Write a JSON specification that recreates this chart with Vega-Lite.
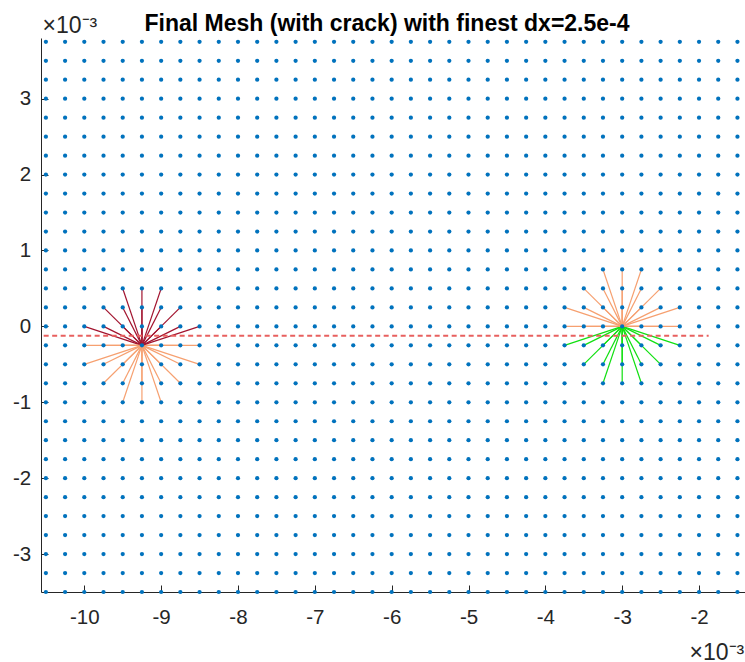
{
  "$schema": "https://vega.github.io/schema/vega-lite/v6.json",
  "width": 704,
  "height": 554,
  "autosize": {"type": "none"},
  "padding": {"left": 41, "top": 38, "right": 0, "bottom": 70},
  "background": "white",
  "config": {
    "view": {"stroke": null},
    "font": "Liberation Sans",
    "axis": {"titleFontSize": 23, "titleFont": "Liberation Sans", "titleFontWeight": "normal", "titleColor": "#262626"}
  },
  "title": {
    "text": "Final Mesh (with crack) with finest dx=2.5e-4",
    "fontSize": 23,
    "fontWeight": "bold",
    "color": "#000000",
    "anchor": "middle",
    "frame": "group",
    "baseline": "alphabetic",
    "dx": -6,
    "dy": 23,
    "offset": -16
  },
  "encoding": {
    "x": {
      "field": "x",
      "type": "quantitative",
      "scale": {"domain": [-10.5635, -1.4017], "nice": false, "zero": false},
      "axis": {
        "values": [-10, -9, -8, -7, -6, -5, -4, -3, -2],
        "labelExpr": "'' + datum.value",
        "grid": false,
        "tickSize": -7,
        "tickColor": "#262626",
        "domainColor": "#262626",
        "labelPadding": 22.8,
        "labelFontSize": 20.5,
        "labelColor": "#262626",
        "labelFlush": false,
        "labelOverlap": false,
        "title": "×10⁻³",
        "titleX": 648,
        "titleY": 67,
        "titleAlign": "left",
        "titleBaseline": "alphabetic",
        "titleFontSize": 23
      }
    },
    "y": {
      "field": "y",
      "type": "quantitative",
      "scale": {"domain": [-3.5, 3.8], "nice": false, "zero": false},
      "axis": {
        "values": [-3, -2, -1, 0, 1, 2, 3],
        "labelExpr": "'' + datum.value",
        "grid": false,
        "tickSize": -7,
        "tickColor": "#262626",
        "domainColor": "#262626",
        "labelPadding": 17.3,
        "labelFontSize": 20.5,
        "labelColor": "#262626",
        "labelFlush": false,
        "labelOverlap": false,
        "title": "×10⁻³",
        "titleAngle": 0,
        "titleX": 1,
        "titleY": -5.3,
        "titleAlign": "left",
        "titleBaseline": "alphabetic",
        "titleFontSize": 23
      }
    }
  },
  "layer": [
    {
      "data": {
        "values": "x,y,x2,y2,k\n-9.25,-0.25,-10,-0.5,o\n-9.25,-0.25,-10,-0.25,o\n-9.25,-0.25,-10,0,b\n-9.25,-0.25,-9.75,-0.75,o\n-9.25,-0.25,-9.75,-0.5,o\n-9.25,-0.25,-9.75,-0.25,o\n-9.25,-0.25,-9.75,0,b\n-9.25,-0.25,-9.75,0.25,b\n-9.25,-0.25,-9.5,-1,o\n-9.25,-0.25,-9.5,-0.75,o\n-9.25,-0.25,-9.5,-0.5,o\n-9.25,-0.25,-9.5,-0.25,o\n-9.25,-0.25,-9.5,0,b\n-9.25,-0.25,-9.5,0.25,b\n-9.25,-0.25,-9.5,0.5,b\n-9.25,-0.25,-9.25,-1,o\n-9.25,-0.25,-9.25,-0.75,o\n-9.25,-0.25,-9.25,-0.5,o\n-9.25,-0.25,-9.25,0,b\n-9.25,-0.25,-9.25,0.25,b\n-9.25,-0.25,-9.25,0.5,b\n-9.25,-0.25,-9,-1,o\n-9.25,-0.25,-9,-0.75,o\n-9.25,-0.25,-9,-0.5,o\n-9.25,-0.25,-9,-0.25,o\n-9.25,-0.25,-9,0,b\n-9.25,-0.25,-9,0.25,b\n-9.25,-0.25,-9,0.5,b\n-9.25,-0.25,-8.75,-0.75,o\n-9.25,-0.25,-8.75,-0.5,o\n-9.25,-0.25,-8.75,-0.25,o\n-9.25,-0.25,-8.75,0,b\n-9.25,-0.25,-8.75,0.25,b\n-9.25,-0.25,-8.5,-0.5,o\n-9.25,-0.25,-8.5,-0.25,o\n-9.25,-0.25,-8.5,0,b\n-3,0,-3.75,-0.25,g\n-3,0,-3.75,0,o\n-3,0,-3.75,0.25,o\n-3,0,-3.5,-0.5,g\n-3,0,-3.5,-0.25,g\n-3,0,-3.5,0,o\n-3,0,-3.5,0.25,o\n-3,0,-3.5,0.5,o\n-3,0,-3.25,-0.75,g\n-3,0,-3.25,-0.5,g\n-3,0,-3.25,-0.25,g\n-3,0,-3.25,0,o\n-3,0,-3.25,0.25,o\n-3,0,-3.25,0.5,o\n-3,0,-3.25,0.75,o\n-3,0,-3,-0.75,g\n-3,0,-3,-0.5,g\n-3,0,-3,-0.25,g\n-3,0,-3,0.25,o\n-3,0,-3,0.5,o\n-3,0,-3,0.75,o\n-3,0,-2.75,-0.75,g\n-3,0,-2.75,-0.5,g\n-3,0,-2.75,-0.25,g\n-3,0,-2.75,0,o\n-3,0,-2.75,0.25,o\n-3,0,-2.75,0.5,o\n-3,0,-2.75,0.75,o\n-3,0,-2.5,-0.5,g\n-3,0,-2.5,-0.25,g\n-3,0,-2.5,0,o\n-3,0,-2.5,0.25,o\n-3,0,-2.5,0.5,o\n-3,0,-2.25,-0.25,g\n-3,0,-2.25,0,o\n-3,0,-2.25,0.25,o",
        "format": {"type": "csv", "parse": {"x": "number", "y": "number", "x2": "number", "y2": "number"}}
      },
      "mark": {"type": "rule", "strokeWidth": 1.2},
      "encoding": {
        "x2": {"field": "x2"},
        "y2": {"field": "y2"},
        "color": {
          "field": "k",
          "type": "nominal",
          "scale": {"domain": ["o", "b", "g"], "range": ["#F6A070", "#A2142F", "#10E010"]},
          "legend": null
        }
      }
    },
    {
      "data": {"values": [{"x": -10.75, "x2": -1.875, "y": -0.125}]},
      "mark": {"type": "rule", "color": "#E8605F", "strokeWidth": 2, "strokeDash": [5, 3.5], "clip": true},
      "encoding": {"x2": {"field": "x2"}}
    },
    {
      "data": {
        "values": "x,y\n-10.5,-3.5\n-10.25,-3.5\n-10,-3.5\n-9.75,-3.5\n-9.5,-3.5\n-9.25,-3.5\n-9,-3.5\n-8.75,-3.5\n-8.5,-3.5\n-8.25,-3.5\n-8,-3.5\n-7.75,-3.5\n-7.5,-3.5\n-7.25,-3.5\n-7,-3.5\n-6.75,-3.5\n-6.5,-3.5\n-6.25,-3.5\n-6,-3.5\n-5.75,-3.5\n-5.5,-3.5\n-5.25,-3.5\n-5,-3.5\n-4.75,-3.5\n-4.5,-3.5\n-4.25,-3.5\n-4,-3.5\n-3.75,-3.5\n-3.5,-3.5\n-3.25,-3.5\n-3,-3.5\n-2.75,-3.5\n-2.5,-3.5\n-2.25,-3.5\n-2,-3.5\n-1.75,-3.5\n-1.5,-3.5\n-10.5,-3.25\n-10.25,-3.25\n-10,-3.25\n-9.75,-3.25\n-9.5,-3.25\n-9.25,-3.25\n-9,-3.25\n-8.75,-3.25\n-8.5,-3.25\n-8.25,-3.25\n-8,-3.25\n-7.75,-3.25\n-7.5,-3.25\n-7.25,-3.25\n-7,-3.25\n-6.75,-3.25\n-6.5,-3.25\n-6.25,-3.25\n-6,-3.25\n-5.75,-3.25\n-5.5,-3.25\n-5.25,-3.25\n-5,-3.25\n-4.75,-3.25\n-4.5,-3.25\n-4.25,-3.25\n-4,-3.25\n-3.75,-3.25\n-3.5,-3.25\n-3.25,-3.25\n-3,-3.25\n-2.75,-3.25\n-2.5,-3.25\n-2.25,-3.25\n-2,-3.25\n-1.75,-3.25\n-1.5,-3.25\n-10.5,-3\n-10.25,-3\n-10,-3\n-9.75,-3\n-9.5,-3\n-9.25,-3\n-9,-3\n-8.75,-3\n-8.5,-3\n-8.25,-3\n-8,-3\n-7.75,-3\n-7.5,-3\n-7.25,-3\n-7,-3\n-6.75,-3\n-6.5,-3\n-6.25,-3\n-6,-3\n-5.75,-3\n-5.5,-3\n-5.25,-3\n-5,-3\n-4.75,-3\n-4.5,-3\n-4.25,-3\n-4,-3\n-3.75,-3\n-3.5,-3\n-3.25,-3\n-3,-3\n-2.75,-3\n-2.5,-3\n-2.25,-3\n-2,-3\n-1.75,-3\n-1.5,-3\n-10.5,-2.75\n-10.25,-2.75\n-10,-2.75\n-9.75,-2.75\n-9.5,-2.75\n-9.25,-2.75\n-9,-2.75\n-8.75,-2.75\n-8.5,-2.75\n-8.25,-2.75\n-8,-2.75\n-7.75,-2.75\n-7.5,-2.75\n-7.25,-2.75\n-7,-2.75\n-6.75,-2.75\n-6.5,-2.75\n-6.25,-2.75\n-6,-2.75\n-5.75,-2.75\n-5.5,-2.75\n-5.25,-2.75\n-5,-2.75\n-4.75,-2.75\n-4.5,-2.75\n-4.25,-2.75\n-4,-2.75\n-3.75,-2.75\n-3.5,-2.75\n-3.25,-2.75\n-3,-2.75\n-2.75,-2.75\n-2.5,-2.75\n-2.25,-2.75\n-2,-2.75\n-1.75,-2.75\n-1.5,-2.75\n-10.5,-2.5\n-10.25,-2.5\n-10,-2.5\n-9.75,-2.5\n-9.5,-2.5\n-9.25,-2.5\n-9,-2.5\n-8.75,-2.5\n-8.5,-2.5\n-8.25,-2.5\n-8,-2.5\n-7.75,-2.5\n-7.5,-2.5\n-7.25,-2.5\n-7,-2.5\n-6.75,-2.5\n-6.5,-2.5\n-6.25,-2.5\n-6,-2.5\n-5.75,-2.5\n-5.5,-2.5\n-5.25,-2.5\n-5,-2.5\n-4.75,-2.5\n-4.5,-2.5\n-4.25,-2.5\n-4,-2.5\n-3.75,-2.5\n-3.5,-2.5\n-3.25,-2.5\n-3,-2.5\n-2.75,-2.5\n-2.5,-2.5\n-2.25,-2.5\n-2,-2.5\n-1.75,-2.5\n-1.5,-2.5\n-10.5,-2.25\n-10.25,-2.25\n-10,-2.25\n-9.75,-2.25\n-9.5,-2.25\n-9.25,-2.25\n-9,-2.25\n-8.75,-2.25\n-8.5,-2.25\n-8.25,-2.25\n-8,-2.25\n-7.75,-2.25\n-7.5,-2.25\n-7.25,-2.25\n-7,-2.25\n-6.75,-2.25\n-6.5,-2.25\n-6.25,-2.25\n-6,-2.25\n-5.75,-2.25\n-5.5,-2.25\n-5.25,-2.25\n-5,-2.25\n-4.75,-2.25\n-4.5,-2.25\n-4.25,-2.25\n-4,-2.25\n-3.75,-2.25\n-3.5,-2.25\n-3.25,-2.25\n-3,-2.25\n-2.75,-2.25\n-2.5,-2.25\n-2.25,-2.25\n-2,-2.25\n-1.75,-2.25\n-1.5,-2.25\n-10.5,-2\n-10.25,-2\n-10,-2\n-9.75,-2\n-9.5,-2\n-9.25,-2\n-9,-2\n-8.75,-2\n-8.5,-2\n-8.25,-2\n-8,-2\n-7.75,-2\n-7.5,-2\n-7.25,-2\n-7,-2\n-6.75,-2\n-6.5,-2\n-6.25,-2\n-6,-2\n-5.75,-2\n-5.5,-2\n-5.25,-2\n-5,-2\n-4.75,-2\n-4.5,-2\n-4.25,-2\n-4,-2\n-3.75,-2\n-3.5,-2\n-3.25,-2\n-3,-2\n-2.75,-2\n-2.5,-2\n-2.25,-2\n-2,-2\n-1.75,-2\n-1.5,-2\n-10.5,-1.75\n-10.25,-1.75\n-10,-1.75\n-9.75,-1.75\n-9.5,-1.75\n-9.25,-1.75\n-9,-1.75\n-8.75,-1.75\n-8.5,-1.75\n-8.25,-1.75\n-8,-1.75\n-7.75,-1.75\n-7.5,-1.75\n-7.25,-1.75\n-7,-1.75\n-6.75,-1.75\n-6.5,-1.75\n-6.25,-1.75\n-6,-1.75\n-5.75,-1.75\n-5.5,-1.75\n-5.25,-1.75\n-5,-1.75\n-4.75,-1.75\n-4.5,-1.75\n-4.25,-1.75\n-4,-1.75\n-3.75,-1.75\n-3.5,-1.75\n-3.25,-1.75\n-3,-1.75\n-2.75,-1.75\n-2.5,-1.75\n-2.25,-1.75\n-2,-1.75\n-1.75,-1.75\n-1.5,-1.75\n-10.5,-1.5\n-10.25,-1.5\n-10,-1.5\n-9.75,-1.5\n-9.5,-1.5\n-9.25,-1.5\n-9,-1.5\n-8.75,-1.5\n-8.5,-1.5\n-8.25,-1.5\n-8,-1.5\n-7.75,-1.5\n-7.5,-1.5\n-7.25,-1.5\n-7,-1.5\n-6.75,-1.5\n-6.5,-1.5\n-6.25,-1.5\n-6,-1.5\n-5.75,-1.5\n-5.5,-1.5\n-5.25,-1.5\n-5,-1.5\n-4.75,-1.5\n-4.5,-1.5\n-4.25,-1.5\n-4,-1.5\n-3.75,-1.5\n-3.5,-1.5\n-3.25,-1.5\n-3,-1.5\n-2.75,-1.5\n-2.5,-1.5\n-2.25,-1.5\n-2,-1.5\n-1.75,-1.5\n-1.5,-1.5\n-10.5,-1.25\n-10.25,-1.25\n-10,-1.25\n-9.75,-1.25\n-9.5,-1.25\n-9.25,-1.25\n-9,-1.25\n-8.75,-1.25\n-8.5,-1.25\n-8.25,-1.25\n-8,-1.25\n-7.75,-1.25\n-7.5,-1.25\n-7.25,-1.25\n-7,-1.25\n-6.75,-1.25\n-6.5,-1.25\n-6.25,-1.25\n-6,-1.25\n-5.75,-1.25\n-5.5,-1.25\n-5.25,-1.25\n-5,-1.25\n-4.75,-1.25\n-4.5,-1.25\n-4.25,-1.25\n-4,-1.25\n-3.75,-1.25\n-3.5,-1.25\n-3.25,-1.25\n-3,-1.25\n-2.75,-1.25\n-2.5,-1.25\n-2.25,-1.25\n-2,-1.25\n-1.75,-1.25\n-1.5,-1.25\n-10.5,-1\n-10.25,-1\n-10,-1\n-9.75,-1\n-9.5,-1\n-9.25,-1\n-9,-1\n-8.75,-1\n-8.5,-1\n-8.25,-1\n-8,-1\n-7.75,-1\n-7.5,-1\n-7.25,-1\n-7,-1\n-6.75,-1\n-6.5,-1\n-6.25,-1\n-6,-1\n-5.75,-1\n-5.5,-1\n-5.25,-1\n-5,-1\n-4.75,-1\n-4.5,-1\n-4.25,-1\n-4,-1\n-3.75,-1\n-3.5,-1\n-3.25,-1\n-3,-1\n-2.75,-1\n-2.5,-1\n-2.25,-1\n-2,-1\n-1.75,-1\n-1.5,-1\n-10.5,-0.75\n-10.25,-0.75\n-10,-0.75\n-9.75,-0.75\n-9.5,-0.75\n-9.25,-0.75\n-9,-0.75\n-8.75,-0.75\n-8.5,-0.75\n-8.25,-0.75\n-8,-0.75\n-7.75,-0.75\n-7.5,-0.75\n-7.25,-0.75\n-7,-0.75\n-6.75,-0.75\n-6.5,-0.75\n-6.25,-0.75\n-6,-0.75\n-5.75,-0.75\n-5.5,-0.75\n-5.25,-0.75\n-5,-0.75\n-4.75,-0.75\n-4.5,-0.75\n-4.25,-0.75\n-4,-0.75\n-3.75,-0.75\n-3.5,-0.75\n-3.25,-0.75\n-3,-0.75\n-2.75,-0.75\n-2.5,-0.75\n-2.25,-0.75\n-2,-0.75\n-1.75,-0.75\n-1.5,-0.75\n-10.5,-0.5\n-10.25,-0.5\n-10,-0.5\n-9.75,-0.5\n-9.5,-0.5\n-9.25,-0.5\n-9,-0.5\n-8.75,-0.5\n-8.5,-0.5\n-8.25,-0.5\n-8,-0.5\n-7.75,-0.5\n-7.5,-0.5\n-7.25,-0.5\n-7,-0.5\n-6.75,-0.5\n-6.5,-0.5\n-6.25,-0.5\n-6,-0.5\n-5.75,-0.5\n-5.5,-0.5\n-5.25,-0.5\n-5,-0.5\n-4.75,-0.5\n-4.5,-0.5\n-4.25,-0.5\n-4,-0.5\n-3.75,-0.5\n-3.5,-0.5\n-3.25,-0.5\n-3,-0.5\n-2.75,-0.5\n-2.5,-0.5\n-2.25,-0.5\n-2,-0.5\n-1.75,-0.5\n-1.5,-0.5\n-10.5,-0.25\n-10.25,-0.25\n-10,-0.25\n-9.75,-0.25\n-9.5,-0.25\n-9.25,-0.25\n-9,-0.25\n-8.75,-0.25\n-8.5,-0.25\n-8.25,-0.25\n-8,-0.25\n-7.75,-0.25\n-7.5,-0.25\n-7.25,-0.25\n-7,-0.25\n-6.75,-0.25\n-6.5,-0.25\n-6.25,-0.25\n-6,-0.25\n-5.75,-0.25\n-5.5,-0.25\n-5.25,-0.25\n-5,-0.25\n-4.75,-0.25\n-4.5,-0.25\n-4.25,-0.25\n-4,-0.25\n-3.75,-0.25\n-3.5,-0.25\n-3.25,-0.25\n-3,-0.25\n-2.75,-0.25\n-2.5,-0.25\n-2.25,-0.25\n-2,-0.25\n-1.75,-0.25\n-1.5,-0.25\n-10.5,0\n-10.25,0\n-10,0\n-9.75,0\n-9.5,0\n-9.25,0\n-9,0\n-8.75,0\n-8.5,0\n-8.25,0\n-8,0\n-7.75,0\n-7.5,0\n-7.25,0\n-7,0\n-6.75,0\n-6.5,0\n-6.25,0\n-6,0\n-5.75,0\n-5.5,0\n-5.25,0\n-5,0\n-4.75,0\n-4.5,0\n-4.25,0\n-4,0\n-3.75,0\n-3.5,0\n-3.25,0\n-3,0\n-2.75,0\n-2.5,0\n-2.25,0\n-2,0\n-1.75,0\n-1.5,0\n-10.5,0.25\n-10.25,0.25\n-10,0.25\n-9.75,0.25\n-9.5,0.25\n-9.25,0.25\n-9,0.25\n-8.75,0.25\n-8.5,0.25\n-8.25,0.25\n-8,0.25\n-7.75,0.25\n-7.5,0.25\n-7.25,0.25\n-7,0.25\n-6.75,0.25\n-6.5,0.25\n-6.25,0.25\n-6,0.25\n-5.75,0.25\n-5.5,0.25\n-5.25,0.25\n-5,0.25\n-4.75,0.25\n-4.5,0.25\n-4.25,0.25\n-4,0.25\n-3.75,0.25\n-3.5,0.25\n-3.25,0.25\n-3,0.25\n-2.75,0.25\n-2.5,0.25\n-2.25,0.25\n-2,0.25\n-1.75,0.25\n-1.5,0.25\n-10.5,0.5\n-10.25,0.5\n-10,0.5\n-9.75,0.5\n-9.5,0.5\n-9.25,0.5\n-9,0.5\n-8.75,0.5\n-8.5,0.5\n-8.25,0.5\n-8,0.5\n-7.75,0.5\n-7.5,0.5\n-7.25,0.5\n-7,0.5\n-6.75,0.5\n-6.5,0.5\n-6.25,0.5\n-6,0.5\n-5.75,0.5\n-5.5,0.5\n-5.25,0.5\n-5,0.5\n-4.75,0.5\n-4.5,0.5\n-4.25,0.5\n-4,0.5\n-3.75,0.5\n-3.5,0.5\n-3.25,0.5\n-3,0.5\n-2.75,0.5\n-2.5,0.5\n-2.25,0.5\n-2,0.5\n-1.75,0.5\n-1.5,0.5\n-10.5,0.75\n-10.25,0.75\n-10,0.75\n-9.75,0.75\n-9.5,0.75\n-9.25,0.75\n-9,0.75\n-8.75,0.75\n-8.5,0.75\n-8.25,0.75\n-8,0.75\n-7.75,0.75\n-7.5,0.75\n-7.25,0.75\n-7,0.75\n-6.75,0.75\n-6.5,0.75\n-6.25,0.75\n-6,0.75\n-5.75,0.75\n-5.5,0.75\n-5.25,0.75\n-5,0.75\n-4.75,0.75\n-4.5,0.75\n-4.25,0.75\n-4,0.75\n-3.75,0.75\n-3.5,0.75\n-3.25,0.75\n-3,0.75\n-2.75,0.75\n-2.5,0.75\n-2.25,0.75\n-2,0.75\n-1.75,0.75\n-1.5,0.75\n-10.5,1\n-10.25,1\n-10,1\n-9.75,1\n-9.5,1\n-9.25,1\n-9,1\n-8.75,1\n-8.5,1\n-8.25,1\n-8,1\n-7.75,1\n-7.5,1\n-7.25,1\n-7,1\n-6.75,1\n-6.5,1\n-6.25,1\n-6,1\n-5.75,1\n-5.5,1\n-5.25,1\n-5,1\n-4.75,1\n-4.5,1\n-4.25,1\n-4,1\n-3.75,1\n-3.5,1\n-3.25,1\n-3,1\n-2.75,1\n-2.5,1\n-2.25,1\n-2,1\n-1.75,1\n-1.5,1\n-10.5,1.25\n-10.25,1.25\n-10,1.25\n-9.75,1.25\n-9.5,1.25\n-9.25,1.25\n-9,1.25\n-8.75,1.25\n-8.5,1.25\n-8.25,1.25\n-8,1.25\n-7.75,1.25\n-7.5,1.25\n-7.25,1.25\n-7,1.25\n-6.75,1.25\n-6.5,1.25\n-6.25,1.25\n-6,1.25\n-5.75,1.25\n-5.5,1.25\n-5.25,1.25\n-5,1.25\n-4.75,1.25\n-4.5,1.25\n-4.25,1.25\n-4,1.25\n-3.75,1.25\n-3.5,1.25\n-3.25,1.25\n-3,1.25\n-2.75,1.25\n-2.5,1.25\n-2.25,1.25\n-2,1.25\n-1.75,1.25\n-1.5,1.25\n-10.5,1.5\n-10.25,1.5\n-10,1.5\n-9.75,1.5\n-9.5,1.5\n-9.25,1.5\n-9,1.5\n-8.75,1.5\n-8.5,1.5\n-8.25,1.5\n-8,1.5\n-7.75,1.5\n-7.5,1.5\n-7.25,1.5\n-7,1.5\n-6.75,1.5\n-6.5,1.5\n-6.25,1.5\n-6,1.5\n-5.75,1.5\n-5.5,1.5\n-5.25,1.5\n-5,1.5\n-4.75,1.5\n-4.5,1.5\n-4.25,1.5\n-4,1.5\n-3.75,1.5\n-3.5,1.5\n-3.25,1.5\n-3,1.5\n-2.75,1.5\n-2.5,1.5\n-2.25,1.5\n-2,1.5\n-1.75,1.5\n-1.5,1.5\n-10.5,1.75\n-10.25,1.75\n-10,1.75\n-9.75,1.75\n-9.5,1.75\n-9.25,1.75\n-9,1.75\n-8.75,1.75\n-8.5,1.75\n-8.25,1.75\n-8,1.75\n-7.75,1.75\n-7.5,1.75\n-7.25,1.75\n-7,1.75\n-6.75,1.75\n-6.5,1.75\n-6.25,1.75\n-6,1.75\n-5.75,1.75\n-5.5,1.75\n-5.25,1.75\n-5,1.75\n-4.75,1.75\n-4.5,1.75\n-4.25,1.75\n-4,1.75\n-3.75,1.75\n-3.5,1.75\n-3.25,1.75\n-3,1.75\n-2.75,1.75\n-2.5,1.75\n-2.25,1.75\n-2,1.75\n-1.75,1.75\n-1.5,1.75\n-10.5,2\n-10.25,2\n-10,2\n-9.75,2\n-9.5,2\n-9.25,2\n-9,2\n-8.75,2\n-8.5,2\n-8.25,2\n-8,2\n-7.75,2\n-7.5,2\n-7.25,2\n-7,2\n-6.75,2\n-6.5,2\n-6.25,2\n-6,2\n-5.75,2\n-5.5,2\n-5.25,2\n-5,2\n-4.75,2\n-4.5,2\n-4.25,2\n-4,2\n-3.75,2\n-3.5,2\n-3.25,2\n-3,2\n-2.75,2\n-2.5,2\n-2.25,2\n-2,2\n-1.75,2\n-1.5,2\n-10.5,2.25\n-10.25,2.25\n-10,2.25\n-9.75,2.25\n-9.5,2.25\n-9.25,2.25\n-9,2.25\n-8.75,2.25\n-8.5,2.25\n-8.25,2.25\n-8,2.25\n-7.75,2.25\n-7.5,2.25\n-7.25,2.25\n-7,2.25\n-6.75,2.25\n-6.5,2.25\n-6.25,2.25\n-6,2.25\n-5.75,2.25\n-5.5,2.25\n-5.25,2.25\n-5,2.25\n-4.75,2.25\n-4.5,2.25\n-4.25,2.25\n-4,2.25\n-3.75,2.25\n-3.5,2.25\n-3.25,2.25\n-3,2.25\n-2.75,2.25\n-2.5,2.25\n-2.25,2.25\n-2,2.25\n-1.75,2.25\n-1.5,2.25\n-10.5,2.5\n-10.25,2.5\n-10,2.5\n-9.75,2.5\n-9.5,2.5\n-9.25,2.5\n-9,2.5\n-8.75,2.5\n-8.5,2.5\n-8.25,2.5\n-8,2.5\n-7.75,2.5\n-7.5,2.5\n-7.25,2.5\n-7,2.5\n-6.75,2.5\n-6.5,2.5\n-6.25,2.5\n-6,2.5\n-5.75,2.5\n-5.5,2.5\n-5.25,2.5\n-5,2.5\n-4.75,2.5\n-4.5,2.5\n-4.25,2.5\n-4,2.5\n-3.75,2.5\n-3.5,2.5\n-3.25,2.5\n-3,2.5\n-2.75,2.5\n-2.5,2.5\n-2.25,2.5\n-2,2.5\n-1.75,2.5\n-1.5,2.5\n-10.5,2.75\n-10.25,2.75\n-10,2.75\n-9.75,2.75\n-9.5,2.75\n-9.25,2.75\n-9,2.75\n-8.75,2.75\n-8.5,2.75\n-8.25,2.75\n-8,2.75\n-7.75,2.75\n-7.5,2.75\n-7.25,2.75\n-7,2.75\n-6.75,2.75\n-6.5,2.75\n-6.25,2.75\n-6,2.75\n-5.75,2.75\n-5.5,2.75\n-5.25,2.75\n-5,2.75\n-4.75,2.75\n-4.5,2.75\n-4.25,2.75\n-4,2.75\n-3.75,2.75\n-3.5,2.75\n-3.25,2.75\n-3,2.75\n-2.75,2.75\n-2.5,2.75\n-2.25,2.75\n-2,2.75\n-1.75,2.75\n-1.5,2.75\n-10.5,3\n-10.25,3\n-10,3\n-9.75,3\n-9.5,3\n-9.25,3\n-9,3\n-8.75,3\n-8.5,3\n-8.25,3\n-8,3\n-7.75,3\n-7.5,3\n-7.25,3\n-7,3\n-6.75,3\n-6.5,3\n-6.25,3\n-6,3\n-5.75,3\n-5.5,3\n-5.25,3\n-5,3\n-4.75,3\n-4.5,3\n-4.25,3\n-4,3\n-3.75,3\n-3.5,3\n-3.25,3\n-3,3\n-2.75,3\n-2.5,3\n-2.25,3\n-2,3\n-1.75,3\n-1.5,3\n-10.5,3.25\n-10.25,3.25\n-10,3.25\n-9.75,3.25\n-9.5,3.25\n-9.25,3.25\n-9,3.25\n-8.75,3.25\n-8.5,3.25\n-8.25,3.25\n-8,3.25\n-7.75,3.25\n-7.5,3.25\n-7.25,3.25\n-7,3.25\n-6.75,3.25\n-6.5,3.25\n-6.25,3.25\n-6,3.25\n-5.75,3.25\n-5.5,3.25\n-5.25,3.25\n-5,3.25\n-4.75,3.25\n-4.5,3.25\n-4.25,3.25\n-4,3.25\n-3.75,3.25\n-3.5,3.25\n-3.25,3.25\n-3,3.25\n-2.75,3.25\n-2.5,3.25\n-2.25,3.25\n-2,3.25\n-1.75,3.25\n-1.5,3.25\n-10.5,3.5\n-10.25,3.5\n-10,3.5\n-9.75,3.5\n-9.5,3.5\n-9.25,3.5\n-9,3.5\n-8.75,3.5\n-8.5,3.5\n-8.25,3.5\n-8,3.5\n-7.75,3.5\n-7.5,3.5\n-7.25,3.5\n-7,3.5\n-6.75,3.5\n-6.5,3.5\n-6.25,3.5\n-6,3.5\n-5.75,3.5\n-5.5,3.5\n-5.25,3.5\n-5,3.5\n-4.75,3.5\n-4.5,3.5\n-4.25,3.5\n-4,3.5\n-3.75,3.5\n-3.5,3.5\n-3.25,3.5\n-3,3.5\n-2.75,3.5\n-2.5,3.5\n-2.25,3.5\n-2,3.5\n-1.75,3.5\n-1.5,3.5\n-10.5,3.75\n-10.25,3.75\n-10,3.75\n-9.75,3.75\n-9.5,3.75\n-9.25,3.75\n-9,3.75\n-8.75,3.75\n-8.5,3.75\n-8.25,3.75\n-8,3.75\n-7.75,3.75\n-7.5,3.75\n-7.25,3.75\n-7,3.75\n-6.75,3.75\n-6.5,3.75\n-6.25,3.75\n-6,3.75\n-5.75,3.75\n-5.5,3.75\n-5.25,3.75\n-5,3.75\n-4.75,3.75\n-4.5,3.75\n-4.25,3.75\n-4,3.75\n-3.75,3.75\n-3.5,3.75\n-3.25,3.75\n-3,3.75\n-2.75,3.75\n-2.5,3.75\n-2.25,3.75\n-2,3.75\n-1.75,3.75\n-1.5,3.75",
        "format": {"type": "csv", "parse": {"x": "number", "y": "number"}}
      },
      "mark": {"type": "circle", "size": 18, "color": "#0072BD", "opacity": 1}
    }
  ]
}
